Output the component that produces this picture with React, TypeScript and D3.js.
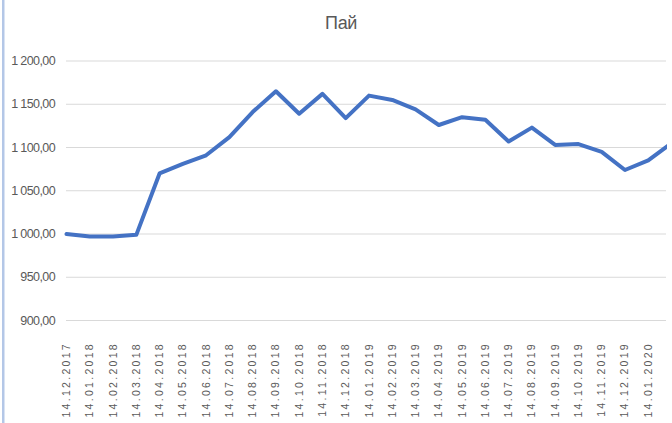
import React from 'react';
import * as d3 from 'd3';

const TITLE = 'Пай';

const DATES = [
    '14.12.2017', '14.01.2018', '14.02.2018', '14.03.2018', '14.04.2018', '14.05.2018',
    '14.06.2018', '14.07.2018', '14.08.2018', '14.09.2018', '14.10.2018', '14.11.2018',
    '14.12.2018', '14.01.2019', '14.02.2019', '14.03.2019', '14.04.2019', '14.05.2019',
    '14.06.2019', '14.07.2019', '14.08.2019', '14.09.2019', '14.10.2019', '14.11.2019',
    '14.12.2019', '14.01.2020', '14.02.2020'
];

const VALUES = [
    1000, 997, 997, 999, 1070, 1081,
    1091, 1112, 1141, 1165, 1139, 1162,
    1134, 1160, 1155, 1144, 1126, 1135,
    1132, 1107, 1123, 1103, 1104, 1095,
    1074, 1085, 1105
];

const Y_TICKS = [900, 950, 1000, 1050, 1100, 1150, 1200];

const fmt = (v: number) => {
    const s = v.toFixed(2).replace('.', ',');
    const [int, dec] = s.split(',');
    return int.replace(/\B(?=(\d{3})+(?!\d))/g, ' ') + ',' + dec;
};

const App: React.FC = () => {
    const width = 672;
    const height = 423;

    const x = d3.scalePoint<string>()
        .domain(DATES)
        .range([66.5, 671.5]);

    const y = d3.scaleLinear()
        .domain([900, 1200])
        .range([320.5, 61]);

    const line = d3.line<number>()
        .x((_, i) => x(DATES[i]) || 0)
        .y(d => y(d));

    const plotRight = 666;

    // the last category sits past the cropped right edge, so its label is not shown
    const visibleLabels = DATES.filter(d => (x(d) || 0) + 6 < plotRight);

    return (
        <svg width={width} height={height} style={{ position: 'absolute', left: 0, top: 0, background: '#fff' }}
            fontFamily="'Liberation Sans', Arial, sans-serif">
            <defs>
                <clipPath id="crop">
                    <rect x={0} y={0} width={plotRight + 1} height={height} />
                </clipPath>
            </defs>

            <rect x={2} y={0} width={2.5} height={height} fill="#b4c7e7" />

            <text x={341} y={29} textAnchor="middle" fontSize="18px" fill="#595959" letterSpacing="-0.4">
                {TITLE}
            </text>

            {Y_TICKS.map(t => (
                <g key={t}>
                    <line x1={66} x2={plotRight} y1={y(t)} y2={y(t)} stroke="#d9d9d9" strokeWidth={1.2} />
                    <text x={55} y={y(t) + 4} textAnchor="end" fontSize="12.5px" letterSpacing="-0.6" fill="#595959">
                        {fmt(t)}
                    </text>
                </g>
            ))}

            {visibleLabels.map(d => (
                <text
                    key={d}
                    transform={`translate(${(x(d) || 0) + 3.5}, 342) rotate(-90)`}
                    textAnchor="end"
                    fontSize="10.5px"
                    letterSpacing="2.3"
                    fill="#595959"
                >
                    {d}
                </text>
            ))}

            <g clipPath="url(#crop)">
                <path
                    d={line(VALUES) || ''}
                    fill="none"
                    stroke="#4472c4"
                    strokeWidth={4}
                    strokeLinejoin="round"
                    strokeLinecap="round"
                />
            </g>
        </svg>
    );
};

export default App;
